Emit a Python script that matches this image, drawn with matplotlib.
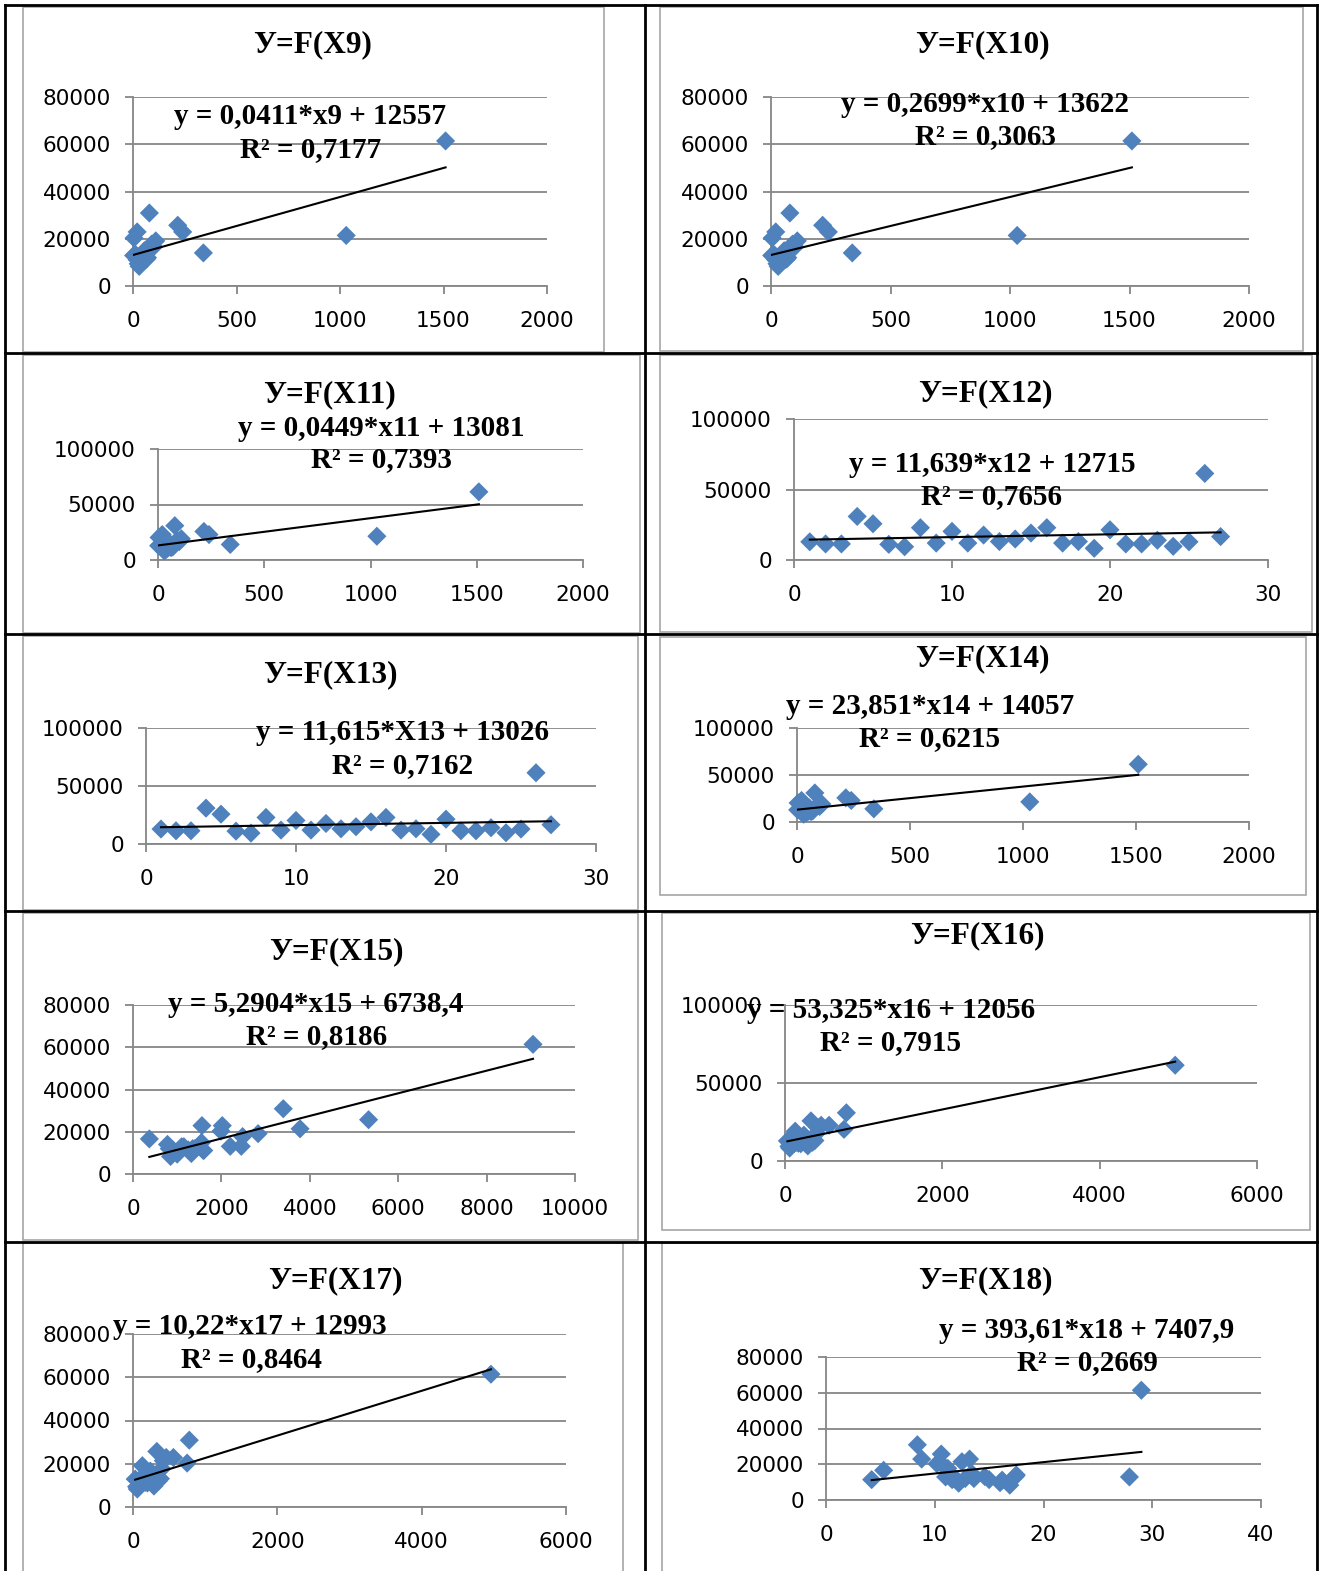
import numpy as np
import matplotlib.pyplot as plt
from matplotlib.lines import Line2D
from matplotlib.patches import Rectangle

# Dependent variable Y (27 observations), same for every panel
y_values = [12900, 11400, 11400, 30900, 25700, 11100, 9400, 22900, 12000,
            20300, 12000, 17700, 13100, 14900, 19100, 22900, 12000, 13100,
            8300, 21400, 11400, 11400, 14000, 9700, 12900, 61400, 16600]

# Factor values
x_9_10_11_14 = [10, 30, 60, 79, 216, 20, 25, 240, 45, 5, 70, 90, 15, 55, 110,
                20, 35, 8, 30, 1030, 50, 65, 340, 40, 3, 1510, 100]
x_12_13 = list(range(1, 28))
x_15 = [1100, 900, 1250, 3400, 5330, 1600, 1000, 1560, 820, 1990, 1400, 2480,
        2200, 1550, 2830, 2020, 1350, 2450, 850, 3780, 1050, 1580, 780, 1320,
        1150, 9050, 370]
x_16_17 = [30, 120, 260, 780, 330, 200, 50, 560, 350, 750, 150, 400, 310, 180,
           130, 460, 90, 380, 60, 420, 300, 170, 230, 290, 100, 4960, 240]
x_18 = [27.9, 11.6, 4.2, 8.4, 10.6, 16.2, 12.2, 8.8, 12.8, 10.2, 13.6, 11.2,
        14.6, 13.4, 10.8, 13.2, 11.8, 17.4, 16.9, 12.5, 12.0, 15.0, 17.5, 16.0,
        11.0, 29.0, 5.3]

titles = ["У=F(X9)", "У=F(X10)", "У=F(X11)", "У=F(X12)", "У=F(X13)",
          "У=F(X14)", "У=F(X15)", "У=F(X16)", "У=F(X17)", "У=F(X18)"]
equations = ["y = 0,0411*x9 + 12557", "y = 0,2699*x10 + 13622",
             "y = 0,0449*x11 + 13081", "y = 11,639*x12 + 12715",
             "y = 11,615*X13 + 13026", "y = 23,851*x14 + 14057",
             "y = 5,2904*x15 + 6738,4", "y = 53,325*x16 + 12056",
             "y = 10,22*x17 + 12993", "y = 393,61*x18 + 7407,9"]
r2_labels = ["R² = 0,7177", "R² = 0,3063", "R² = 0,7393", "R² = 0,7656",
             "R² = 0,7162", "R² = 0,6215", "R² = 0,8186", "R² = 0,7915",
             "R² = 0,8464", "R² = 0,2669"]
x_data = [x_9_10_11_14, x_9_10_11_14, x_9_10_11_14, x_12_13, x_12_13,
          x_9_10_11_14, x_15, x_16_17, x_16_17, x_18]
x_max = [2000, 2000, 2000, 30, 30, 2000, 10000, 6000, 6000, 40]
x_step = [500, 500, 500, 10, 10, 500, 2000, 2000, 2000, 10]
y_max = [80000, 80000, 100000, 100000, 100000, 100000, 80000, 100000, 80000, 80000]
y_step = [20000, 20000, 50000, 50000, 50000, 50000, 20000, 50000, 20000, 20000]

W, H = 1320, 1571

# layout in pixels: plot area (x0, x1, ytop, ybot), title xy, eq xy, r2 xy, chart border
layout = [
    ((133, 547, 97, 286), (313, 45), (310, 117), (311, 150), (23, 604, 7, 352)),
    ((771, 1249, 97, 286), (982, 45), (985, 104), (985, 137), (660, 1303, 7, 351)),
    ((158, 583, 449, 560), (330, 395), (381, 428), (381, 460), (23, 640, 355, 633)),
    ((794, 1268, 419, 560), (985, 394), (992, 465), (992, 497), (660, 1312, 355, 632)),
    ((146, 596, 728, 844), (330, 675), (403, 733), (403, 766), (23, 638, 636, 910)),
    ((797, 1249, 728, 822), (982, 659), (930, 706), (930, 739), (660, 1306, 637, 895)),
    ((133, 575, 1005, 1174), (336, 952), (316, 1004), (317, 1037), (23, 638, 913, 1240)),
    ((785, 1257, 1005, 1161), (977, 936), (891, 1010), (891, 1043), (662, 1310, 913, 1230)),
    ((133, 566, 1334, 1507), (335, 1281), (250, 1327), (251, 1360), (23, 623, 1243, 1580)),
    ((826, 1261, 1357, 1500), (985, 1281), (1087, 1330), (1087, 1363), (662, 1317, 1243, 1580)),
]

grid_gray = '#868686'
blue = '#4F81BD'
serif = 'Liberation Serif'


def fx(px):
    return px / W


def fy(py):
    return 1 - py / H


fig = plt.figure(figsize=(W / 100, H / 100), dpi=100)
fig.patch.set_facecolor('white')

for i in range(10):
    (x0, x1, yt, yb), t_xy, e_xy, r_xy, (bx0, bx1, by0, by1) = layout[i]

    # gray chart border
    fig.add_artist(Rectangle((fx(bx0), fy(by1)), fx(bx1 - bx0), (by1 - by0) / H,
                             transform=fig.transFigure, fill=False,
                             edgecolor='#a6a6a6', linewidth=1.2, zorder=1))

    ax = fig.add_axes([fx(x0), fy(yb), (x1 - x0) / W, (yb - yt) / H])
    ax.set_facecolor('none')
    xs = np.array(x_data[i], dtype=float)
    ys = np.array(y_values, dtype=float)

    ax.scatter(xs, ys, marker='D', s=95, color=blue, edgecolors='none',
               zorder=3, clip_on=False)
    k, b = np.polyfit(xs, ys, 1)
    xl = np.array([xs.min(), xs.max()])
    ax.plot(xl, k * xl + b, color='black', linewidth=1.5, zorder=4)

    ax.set_xlim(0, x_max[i])
    ax.set_ylim(0, y_max[i])
    ax.set_xticks(np.arange(0, x_max[i] + 1, x_step[i]))
    ax.set_yticks(np.arange(0, y_max[i] + 1, y_step[i]))
    ax.yaxis.grid(True, color=grid_gray, linewidth=1.3, zorder=0)
    ax.set_axisbelow(True)
    for s in ['top', 'right']:
        ax.spines[s].set_visible(False)
    for s in ['left', 'bottom']:
        ax.spines[s].set_color(grid_gray)
        ax.spines[s].set_linewidth(1.3)
    ax.tick_params(axis='both', direction='out', length=6, width=1.3,
                   color=grid_gray, labelsize=15.5)
    ax.tick_params(axis='y', pad=10)
    ax.tick_params(axis='x', pad=12)

    fig.text(fx(t_xy[0]), fy(t_xy[1]), titles[i], ha='center', va='center',
             fontsize=22.5, fontweight='bold', family=serif, zorder=5)
    fig.text(fx(e_xy[0]), fy(e_xy[1]), equations[i], ha='center', va='center',
             fontsize=21, fontweight='bold', family=serif, zorder=5)
    fig.text(fx(r_xy[0]), fy(r_xy[1]), r2_labels[i], ha='center', va='center',
             fontsize=21, fontweight='bold', family=serif, zorder=5)

# black table grid
for yy in [5, 353, 634, 911, 1242]:
    fig.add_artist(Line2D([fx(5), fx(1317)], [fy(yy), fy(yy)], color='black',
                          linewidth=2, transform=fig.transFigure))
for xx in [5, 645, 1317]:
    fig.add_artist(Line2D([fx(xx), fx(xx)], [fy(5), fy(1571)], color='black',
                          linewidth=2, transform=fig.transFigure))

fig.savefig('out.png', dpi=100)
